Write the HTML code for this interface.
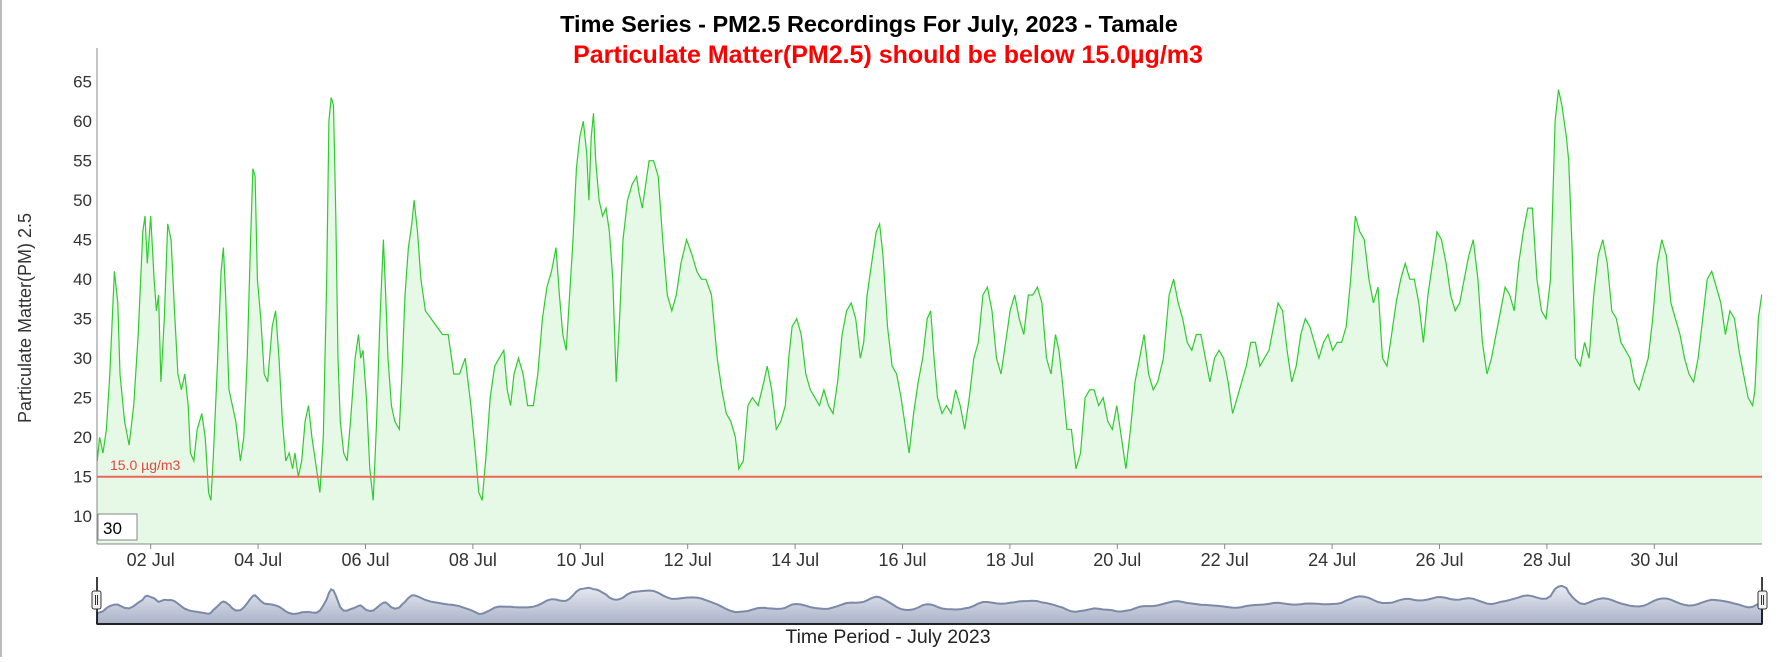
<!DOCTYPE html>
<html><head><meta charset="utf-8"><style>
body{margin:0;background:#fff;width:1778px;height:657px;overflow:hidden;font-family:"Liberation Sans",Arial,sans-serif}
</style></head><body>
<svg id="s" width="1778" height="657" xmlns="http://www.w3.org/2000/svg" font-family="Liberation Sans, Arial, sans-serif">
<line x1="1" y1="0" x2="1" y2="657" stroke="#bbb" stroke-width="2"/>
<text x="869" y="32" text-anchor="middle" font-size="23.5" font-weight="bold" fill="#000">Time Series - PM2.5 Recordings For July, 2023 - Tamale</text>
<text x="888" y="63" text-anchor="middle" font-size="25" font-weight="bold" fill="#ff0000">Particulate Matter(PM2.5) should be below 15.0µg/m3</text>
<text transform="translate(31,318) rotate(-90)" text-anchor="middle" font-size="18" fill="#333">Particulate Matter(PM) 2.5</text>
<g id="yt" font-size="17" fill="#333" text-anchor="end"></g>
<path id="area" fill="#e6f9e6" stroke="none"/>
<path id="ln" fill="none" stroke="#2ecc2e" stroke-width="1.2"/>
<line x1="97" y1="476.7" x2="1762" y2="476.7" stroke="#ee6655" stroke-width="2"/>
<text x="110" y="470" font-size="14" fill="#e8453c">15.0 µg/m3</text>
<line x1="97" y1="48" x2="97" y2="544" stroke="#888" stroke-width="1"/>
<line x1="97" y1="544" x2="1762" y2="544" stroke="#888" stroke-width="1"/>
<g id="xt" font-size="18" fill="#333" text-anchor="middle"></g>
<rect x="98" y="514" width="39" height="26" fill="#fff" stroke="#888"/>
<text x="103" y="534" font-size="17" fill="#000">30</text>
<defs><linearGradient id="g" x1="0" y1="0" x2="0" y2="1"><stop offset="0" stop-color="#e8ebf2"/><stop offset="1" stop-color="#a9b2c8"/></linearGradient></defs>
<path id="nav" fill="url(#g)" stroke="#7b8aa8" stroke-width="2"/>
<line x1="97" y1="577" x2="97" y2="624" stroke="#000" stroke-width="1.5"/>
<line x1="1762" y1="577" x2="1762" y2="624" stroke="#000" stroke-width="1.5"/>
<line x1="97" y1="624" x2="1762" y2="624" stroke="#222" stroke-width="2"/>
<rect x="92" y="591" width="9" height="18" rx="2" fill="#f2f2f2" stroke="#333"/>
<line x1="95.5" y1="595" x2="95.5" y2="605" stroke="#333"/><line x1="97.5" y1="595" x2="97.5" y2="605" stroke="#333"/>
<rect x="1758" y="591" width="9" height="18" rx="2" fill="#f2f2f2" stroke="#333"/>
<line x1="1761.5" y1="595" x2="1761.5" y2="605" stroke="#333"/><line x1="1763.5" y1="595" x2="1763.5" y2="605" stroke="#333"/>
<text x="888" y="643" text-anchor="middle" font-size="19.5" fill="#222">Time Period - July 2023</text>
</svg>
<script>
var raw=[86,17,88,20,91,18,94,21,97,28,101,41,104,37,106,28,110,22,114,19,118,24,122,33,126,46,128,48,130,42,133,48,136,40,138,36,140,38,142,27,145,35,148,47,151,45,154,36,157,28,160,26,163,28,166,24,168,18,171,17,174,21,178,23,181,20,184,13,186,12,188,17,192,30,195,41,197,44,199,38,202,26,205,24,208,22,212,17,215,20,218,30,221,45,223,54,225,53,227,40,230,35,233,28,236,27,240,34,243,36,246,30,249,22,252,17,255,18,258,16,260,18,263,15,266,17,269,22,272,24,275,20,279,16,282,13,285,20,288,40,290,60,292,63,294,62,296,48,298,30,300,22,303,18,306,17,309,22,313,30,316,33,318,30,320,31,323,25,326,16,329,12,332,22,335,35,338,45,340,38,342,30,345,24,348,22,352,21,354,27,357,38,360,44,363,47,365,50,368,46,371,40,375,36,380,35,385,34,390,33,395,33,400,28,405,28,410,30,415,24,419,18,422,13,425,12,428,17,432,25,436,29,440,30,444,31,447,26,450,24,453,28,457,30,461,28,465,24,470,24,474,28,478,35,482,39,486,41,490,44,493,38,496,33,499,31,502,38,505,45,508,54,511,58,514,60,517,56,519,50,521,58,523,61,525,55,528,50,531,48,534,49,537,46,540,40,543,27,546,35,549,45,553,50,557,52,561,53,563,51,566,49,569,52,572,55,576,55,580,53,584,45,588,38,592,36,596,38,600,42,605,45,610,43,614,41,618,40,622,40,627,38,632,30,636,26,640,23,644,22,648,20,651,16,655,17,659,24,663,25,668,24,673,27,676,29,680,26,684,21,688,22,692,24,695,30,698,34,702,35,706,33,710,28,714,26,718,25,722,24,726,26,730,24,734,23,738,27,742,33,746,36,750,37,754,35,758,30,761,32,764,38,768,42,772,46,775,47,778,43,782,34,786,29,790,28,794,25,798,21,801,18,805,23,809,27,813,30,817,35,820,36,823,30,826,25,830,23,834,24,838,23,842,26,846,24,850,21,854,25,858,30,862,32,866,38,870,39,874,36,878,30,882,28,886,32,890,36,894,38,898,35,902,33,906,38,910,38,914,39,918,37,922,30,926,28,930,33,933,31,936,27,940,21,944,21,948,16,952,18,956,25,960,26,964,26,968,24,972,25,976,22,980,21,984,24,988,20,992,16,996,21,1000,27,1004,30,1008,33,1012,28,1016,26,1020,27,1025,30,1030,38,1034,40,1038,37,1042,35,1046,32,1050,31,1054,33,1058,33,1062,30,1066,27,1070,30,1074,31,1078,30,1082,27,1086,23,1090,25,1094,27,1098,29,1102,32,1106,32,1110,29,1114,30,1118,31,1122,34,1126,37,1130,36,1134,31,1138,27,1142,29,1146,33,1150,35,1154,34,1158,32,1162,30,1166,32,1170,33,1174,31,1178,32,1182,32,1186,34,1190,40,1194,48,1198,46,1202,45,1206,40,1210,37,1214,39,1218,30,1222,29,1226,33,1230,37,1234,40,1238,42,1242,40,1246,40,1250,37,1254,32,1258,38,1262,42,1266,46,1270,45,1274,42,1278,38,1282,36,1286,37,1290,40,1294,43,1298,45,1302,40,1306,32,1310,28,1314,30,1318,33,1322,36,1326,39,1330,38,1334,36,1338,42,1342,46,1346,49,1350,49,1354,40,1358,36,1362,35,1366,40,1368,50,1370,60,1373,64,1376,62,1380,58,1382,55,1385,44,1388,30,1392,29,1396,32,1400,30,1404,38,1408,43,1412,45,1416,42,1420,36,1424,35,1428,32,1432,31,1436,30,1440,27,1444,26,1448,28,1452,30,1456,35,1460,42,1464,45,1468,43,1472,37,1476,35,1480,33,1484,30,1488,28,1492,27,1496,30,1500,35,1504,40,1508,41,1512,39,1516,37,1520,33,1524,36,1528,35,1532,31,1536,28,1540,25,1544,24,1546,26,1549,35,1552,38,1554,38];
var X=[],V=[];
for(var i=0;i<raw.length;i+=2){X.push(Math.max(97,Math.min(1762,97+(raw[i]-85.7)/47.3*53.7)));V.push(raw[i+1]);}
function Y(v){return 476.7-(v-15)*7.9;}
var d="";for(i=0;i<X.length;i++)d+=(i?"L":"M")+X[i].toFixed(1)+","+Y(V[i]).toFixed(1);
document.getElementById("ln").setAttribute("d",d);
document.getElementById("area").setAttribute("d",d+"L1762,544L97,544Z");
var nd="";for(i=0;i<X.length;i++){var s=0,c=0;for(var k=-2;k<=2;k++){var j=i+k;if(j>=0&&j<V.length){s+=V[j];c++;}}var sv=s/c;nd+=(i?"L":"M")+X[i].toFixed(1)+","+(617-(sv-12)*0.65).toFixed(1);}
document.getElementById("nav").setAttribute("d",nd+"L1762,624L97,624Z");
var yt=document.getElementById("yt"),h="";
for(var v=10;v<=65;v+=5)h+='<text x="92" y="'+(Y(v)+6).toFixed(1)+'">'+v+'</text>';
yt.innerHTML=h;
var xt=document.getElementById("xt");h="";
for(var dd=2;dd<=30;dd+=2){var x=97+(dd-1)*53.7;h+='<line x1="'+x+'" y1="544" x2="'+x+'" y2="549" stroke="#888"/><text x="'+x+'" y="566">'+(dd<10?"0":"")+dd+' Jul</text>';}
xt.innerHTML=h;
</script>
</body></html>
